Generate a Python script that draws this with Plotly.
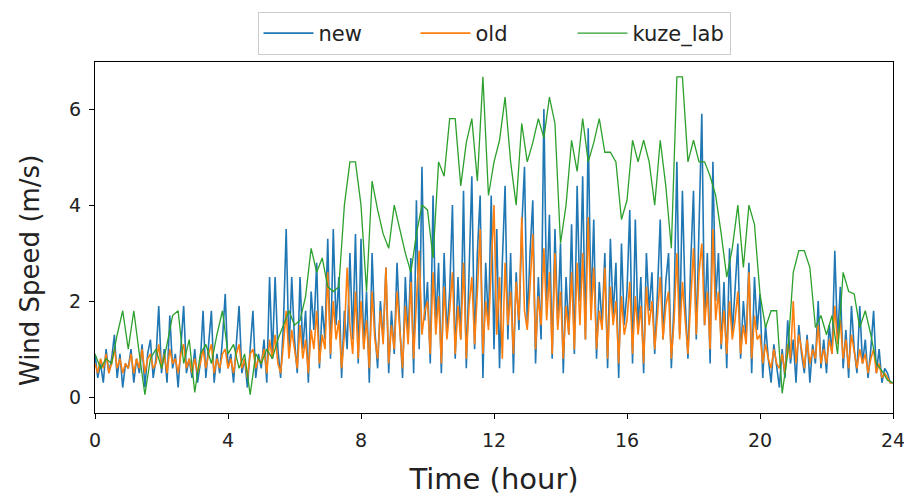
import numpy as np
import plotly.graph_objects as go

# ---- data ----
# 'new' and 'old': 5-minute samples, 12 per hour, 0..24 h
new_speed = [
    0.9, 0.4, 0.7, 0.3, 1.0, 0.5, 0.8, 1.3, 0.4, 0.9, 0.2, 0.7,
    0.6, 1.0, 0.3, 0.8, 0.5, 1.1, 0.2, 0.9, 1.2, 0.4, 0.8, 1.9,
    0.5, 1.0, 0.3, 1.7, 0.6, 0.9, 0.2, 1.1, 1.9, 0.5, 0.8, 0.4,
    1.0, 0.3, 0.7, 1.8, 0.4, 1.1, 1.8, 0.3, 0.9, 0.5, 1.2, 2.15,
    0.6, 0.9, 0.3, 1.1, 1.9, 0.5, 0.8, 0.2, 1.0, 1.8, 0.4, 0.9,
    0.6, 1.2, 0.3, 2.5, 0.8, 2.5, 1.0, 0.4, 1.5, 3.5, 0.9, 2.5,
    1.2, 0.5, 2.5, 1.0, 1.8, 0.3, 2.2, 1.4, 2.8, 0.6, 1.9, 1.2,
    3.3, 0.8, 3.5, 1.5, 2.5, 0.4, 1.8, 1.0, 3.0, 1.2, 3.4, 0.7,
    3.3, 1.0, 2.2, 0.3, 3.0, 1.4, 0.6, 2.0, 1.2, 2.7, 0.5, 1.8,
    0.9, 2.8, 1.5, 0.4, 2.5, 1.2, 2.9, 0.5, 4.1, 1.0, 4.8, 1.6,
    2.4, 0.7, 4.2, 1.5, 2.8, 0.5, 3.0, 1.3, 2.2, 4.0, 0.8, 2.5,
    1.2, 4.3, 0.6, 2.5, 4.6, 1.0, 3.0, 4.2, 0.4, 2.8, 1.5, 4.2,
    1.0, 3.5, 0.6, 2.8, 4.4, 1.2, 3.0, 0.5, 2.6, 1.4, 3.5, 4.8,
    1.5, 3.0, 4.1, 0.7, 2.5, 1.2, 6.0, 2.0, 3.8, 0.8, 3.5, 1.5,
    3.2, 0.5, 2.5, 1.3, 3.6, 0.9, 4.4, 2.0, 4.6, 1.2, 5.6, 1.8,
    3.7, 0.8, 2.4, 1.5, 3.0, 0.6, 3.3, 1.7, 2.8, 0.4, 3.2, 1.5,
    2.2, 3.9, 0.7, 3.7, 1.4, 2.5, 0.5, 3.0, 1.8, 2.6, 0.9, 2.2,
    3.7, 1.2, 2.4, 3.0, 0.6, 2.0, 4.9, 1.3, 4.3, 2.0, 0.8, 2.8,
    4.3, 1.2, 3.8, 5.9, 1.5, 3.0, 0.7, 4.9, 2.0, 3.0, 1.0, 2.4,
    0.6, 3.1, 1.3, 2.2, 3.2, 0.8, 2.0, 1.2, 2.8, 0.5, 2.5, 1.4,
    2.15, 0.4, 1.5, 0.8, 0.3, 1.1, 0.6, 0.2, 1.0, 0.4, 1.6, 0.7,
    1.2, 0.3, 1.5, 0.9, 0.5, 1.3, 0.3, 1.1, 0.7, 2.0, 0.6, 1.2,
    0.5, 1.5, 0.9, 3.05, 1.2, 2.3, 0.6, 1.4, 0.4, 1.9, 1.0, 0.5,
    1.9, 0.7, 1.2, 0.4, 1.0, 1.8, 0.5, 1.0, 0.3, 0.6, 0.5, 0.3,
    0.3,
]
old_speed = [
    0.7, 0.5, 0.8, 0.6, 0.9, 0.5, 0.7, 1.0, 0.6, 0.8, 0.5, 0.7,
    0.6, 0.9, 0.5, 0.8, 0.6, 1.0, 0.5, 0.8, 0.9, 0.6, 0.7, 1.1,
    0.6, 0.9, 0.5, 1.0, 0.7, 0.8, 0.5, 0.9, 1.1, 0.6, 0.8, 0.5,
    0.8, 0.5, 0.7, 1.0, 0.6, 0.9, 1.1, 0.5, 0.8, 0.6, 0.9, 1.0,
    0.6, 0.8, 0.5, 0.9, 1.1, 0.6, 0.8, 0.4, 0.9, 1.0, 0.6, 0.8,
    0.7, 1.0, 0.5, 1.2, 0.8, 1.3, 0.7, 0.5, 1.1, 1.8, 0.8, 1.4,
    1.0, 0.6, 1.5, 0.8, 1.2, 0.5, 1.4, 1.0, 1.8, 0.7, 1.3, 1.0,
    2.6, 0.9, 2.0, 1.2, 1.6, 0.6, 1.3, 2.7, 1.5, 0.9, 2.2, 0.8,
    2.0, 1.0, 1.6, 0.6, 2.2, 1.2, 0.8, 1.8, 1.1, 2.7, 0.7, 1.5,
    1.0, 2.2, 1.4, 0.6, 1.9, 1.1, 2.4, 0.8, 2.0, 3.05, 1.3, 1.8,
    2.0, 0.9, 2.6, 1.3, 2.1, 0.7, 2.3, 1.2, 1.8, 2.6, 0.9, 1.9,
    1.2, 2.8, 0.8, 1.9, 2.5, 1.1, 2.2, 3.5, 0.9, 2.0, 1.4, 2.6,
    4.0, 1.3, 2.5, 0.8, 2.8, 1.5, 2.2, 0.9, 2.4, 1.6, 3.75, 1.8,
    1.4, 2.3, 3.4, 1.0, 2.1, 1.5, 3.1, 1.6, 2.6, 0.9, 3.0, 1.4,
    2.2, 0.8, 1.9, 1.3, 2.6, 1.0, 2.8, 1.5, 3.0, 1.2, 3.75, 1.6,
    2.7, 1.0, 1.8, 1.4, 2.7, 0.8, 2.3, 1.5, 2.0, 0.7, 2.1, 1.3,
    1.6, 2.4, 0.9, 2.1, 1.3, 1.9, 0.7, 2.3, 1.5, 2.0, 1.0, 1.7,
    2.5, 1.2, 1.9, 2.2, 0.8, 1.6, 3.0, 1.2, 2.4, 1.6, 0.9, 2.0,
    3.1, 1.3, 2.6, 3.2, 1.5, 2.2, 1.0, 3.5, 1.6, 2.2, 1.1, 1.8,
    0.9, 2.0, 1.2, 1.6, 2.2, 0.9, 1.5, 1.1, 2.6, 0.8, 1.7, 1.2,
    1.3, 0.7, 1.1, 0.8, 0.6, 1.0, 0.7, 0.6, 0.9, 0.5, 1.1, 0.8,
    2.0, 0.7, 1.3, 1.0, 0.6, 1.2, 0.7, 1.0, 0.8, 1.5, 0.7, 1.0,
    0.7, 1.2, 0.9, 1.9, 1.1, 1.6, 0.8, 1.2, 0.6, 1.3, 0.9, 0.6,
    1.0, 0.7, 0.9, 0.5, 0.8, 1.0, 0.5, 0.7, 0.4, 0.5, 0.4, 0.3,
    0.3,
]
# 'kuze_lab': 10-minute samples, 6 per hour, 0..24 h
kuze_speed = [
    0.9, 0.6, 0.8, 0.7, 1.3, 1.8,
    1.0, 1.8, 0.9, 0.05, 0.8, 1.0,
    0.6, 1.1, 1.7, 1.8, 0.7, 1.2,
    0.1, 0.9, 1.1, 0.7, 1.3, 1.8,
    0.9, 1.1, 0.6, 0.9, 0.05, 0.9,
    0.7, 1.0, 0.8, 1.2, 1.5, 1.8,
    1.5, 1.6, 2.1, 3.1, 2.6, 2.9,
    2.3, 2.2, 2.3, 4.0, 4.9, 4.9,
    4.0, 2.2, 4.5, 3.9, 3.4, 3.1,
    4.0, 3.5, 3.0, 2.6, 3.4, 4.0,
    3.9, 2.9, 4.9, 4.6, 5.8, 5.8,
    4.4, 5.3, 5.8, 4.5, 6.67, 4.2,
    4.9, 5.35, 6.25, 4.9, 4.0, 5.7,
    4.9, 5.3, 5.8, 5.4, 6.25, 5.7,
    3.2, 4.0, 5.35, 4.7, 5.8, 4.9,
    5.3, 5.8, 5.1, 5.1, 4.9, 3.7,
    4.1, 5.35, 4.9, 5.35, 4.9, 4.0,
    5.35, 4.4, 3.1, 6.67, 6.67, 4.9,
    5.35, 4.9, 4.9, 4.6, 4.2, 3.4,
    2.5, 3.1, 4.0, 2.7, 4.0, 3.6,
    2.15, 1.45, 1.8, 1.8, 0.08, 0.9,
    2.6, 3.05, 3.05, 2.7, 1.45, 1.7,
    1.3, 1.7, 0.9, 2.6, 2.2, 2.15,
    1.45, 1.8, 1.3, 0.7, 0.55, 0.35,
    0.3,
]
series_names = ["new", "old", "kuze_lab"]
x_ticks = [0, 4, 8, 12, 16, 20, 24]
y_ticks = [0, 2, 4, 6]

t_5min = np.arange(len(new_speed)) * 5 / 60.0
t_10min = np.arange(len(kuze_speed)) * 10 / 60.0

colors = ["#1f77b4", "#ff7f0e", "#2ca02c"]

fig = go.Figure()
fig.add_trace(go.Scatter(x=t_5min, y=new_speed, mode="lines", name=series_names[0],
                         line=dict(color=colors[0], width=1.6)))
fig.add_trace(go.Scatter(x=t_5min, y=old_speed, mode="lines", name=series_names[1],
                         line=dict(color=colors[1], width=1.6)))
fig.add_trace(go.Scatter(x=t_10min, y=kuze_speed, mode="lines", name=series_names[2],
                         line=dict(color=colors[2], width=1.3)))

axis_common = dict(
    showline=True, linecolor="black", linewidth=1, mirror=True,
    showgrid=False, zeroline=False, automargin=False,
    ticks="outside", ticklen=5, tickwidth=1, tickcolor="black",
    tickfont=dict(family="DejaVu Sans", size=19, color="#222"),
)
fig.update_xaxes(range=[0, 24], tickvals=x_ticks, ticklabelstandoff=5,
                 title=dict(text="Time (hour)", font=dict(family="DejaVu Sans", size=29, color="#222"), standoff=18),
                 **axis_common)
fig.update_yaxes(range=[-0.33, 6.98], tickvals=y_ticks, ticklabelstandoff=4, **axis_common)

fig.add_annotation(text="Wind Speed (m/s)", textangle=-90,
                   xref="paper", yref="paper", x=(30 - 95) / 798, y=(413 - 271) / 351,
                   xanchor="center", yanchor="middle", showarrow=False,
                   font=dict(family="DejaVu Sans", size=26, color="#222"))

# the page body adds an 8 px offset, so the figure is 8 px smaller and margins shifted
fig.update_layout(
    width=904, height=493,
    margin=dict(l=87, r=19, t=54, b=88, autoexpand=False),
    paper_bgcolor="white", plot_bgcolor="white",
    font=dict(family="DejaVu Sans", color="#222"),
    legend=dict(orientation="h", x=0.5, xanchor="center", y=0.992, yanchor="top",
                yref="container", bgcolor="white", bordercolor="#cccccc", borderwidth=1,
                font=dict(family="DejaVu Sans", size=21, color="#222"),
                entrywidth=92, itemwidth=50),
    showlegend=True,
)

fig.write_html("out.html")
